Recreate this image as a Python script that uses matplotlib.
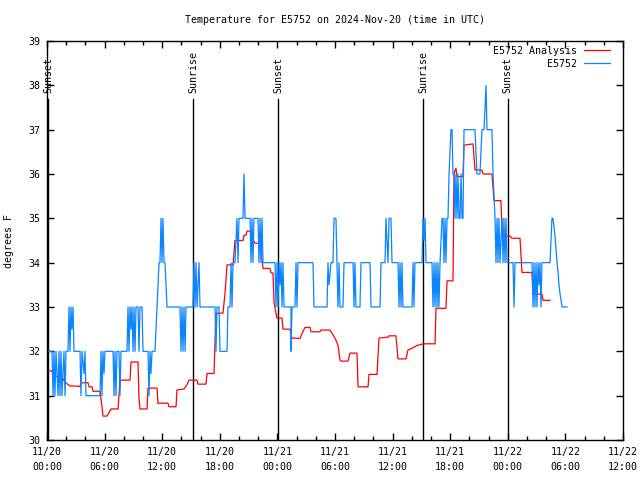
import matplotlib
matplotlib.use('Agg')
import matplotlib.pyplot as plt
from matplotlib.ticker import MultipleLocator

# hours after 2024-11-20 00:00 UTC
analysis_h = [0.00, 0.52, 0.63, 1.56, 1.88, 2.40, 3.44, 3.54, 4.27, 4.38, 4.69, 4.79,
              5.52, 5.73, 5.83, 6.25, 6.46, 6.67, 7.40, 7.60, 8.65, 8.75, 9.48, 9.58,
              9.69, 10.42, 10.52, 11.46, 11.56, 12.60, 12.71, 13.44, 13.54, 14.27, 14.58,
              14.79, 15.63, 15.73, 16.56, 16.67, 17.40, 17.50, 17.60, 18.33, 18.54, 18.75,
              19.38, 19.58, 20.42, 20.52, 20.73, 20.83, 21.35, 21.46, 21.67, 22.19, 22.40,
              22.50, 23.23, 23.33, 23.54, 23.65, 23.85, 23.96, 24.48, 24.58, 25.31, 25.52,
              26.35, 26.67, 26.88, 27.40, 27.50, 28.44, 28.54, 29.48, 30.00, 30.31, 30.52,
              30.63, 31.35, 31.56, 32.29, 32.40, 33.44, 33.54, 34.38, 34.58, 35.52, 35.63,
              36.35, 36.56, 37.40, 37.60, 38.02, 38.54, 39.17, 40.42, 40.52, 41.56, 41.67,
              42.29, 42.40, 42.60, 42.71, 43.33, 43.44, 44.38, 44.58, 45.31, 45.42, 46.35,
              46.56, 47.29, 47.40, 48.23, 48.44, 49.27, 49.48, 50.52, 50.63, 51.56, 51.67,
              52.40]
analysis_t = [31.56, 31.56, 31.45, 31.42, 31.30, 31.22, 31.21, 31.29, 31.29, 31.20, 31.20, 31.10,
              31.10, 30.75, 30.54, 30.54, 30.62, 30.70, 30.70, 31.35, 31.35, 31.76, 31.76, 30.94,
              30.70, 30.70, 31.17, 31.17, 30.83, 30.83, 30.75, 30.75, 31.13, 31.15, 31.25,
              31.35, 31.35, 31.26, 31.26, 31.50, 31.50, 32.20, 32.86, 32.86, 33.30, 33.95,
              33.95, 34.50, 34.50, 34.62, 34.62, 34.71, 34.71, 34.51, 34.44, 34.44, 34.06,
              33.87, 33.87, 33.77, 33.77, 33.10, 32.86, 32.75, 32.75, 32.50, 32.50, 32.30,
              32.29, 32.45, 32.54, 32.54, 32.44, 32.44, 32.48, 32.48, 32.30, 32.14, 31.80,
              31.78, 31.78, 31.96, 31.96, 31.20, 31.20, 31.48, 31.48, 32.30, 32.32, 32.35,
              32.35, 31.83, 31.83, 32.03, 32.07, 32.13, 32.17, 32.17, 32.97, 32.97, 33.59,
              33.59, 36.02, 36.13, 35.94, 35.94, 36.65, 36.68, 36.09, 36.09, 36.00, 36.00,
              35.40, 35.40, 34.60, 34.60, 34.55, 34.55, 33.78, 33.78, 33.29, 33.29, 33.15,
              33.15]

obs_h = [0.00, 0.52, 0.63, 0.73, 0.83, 0.94, 1.04, 1.15, 1.25, 1.35, 1.46, 1.56, 1.67, 1.77,
         1.88, 1.98, 2.19, 2.29, 2.40, 2.50, 2.60, 2.71, 2.81, 3.44, 3.54, 3.65, 3.85, 3.96,
         4.06, 5.52, 5.63, 5.73, 5.83, 5.94, 6.04, 6.88, 6.98, 7.08, 7.19, 7.29, 7.50, 7.60,
         7.71, 8.33, 8.44, 8.54, 8.65, 8.75, 8.85, 8.96, 9.06, 9.17, 9.27, 9.48, 9.58, 9.69,
         9.90, 10.00, 10.52, 10.63, 10.73, 10.83, 10.94, 11.25, 11.46, 11.56, 11.67, 11.77,
         11.88, 11.98, 12.08, 12.19, 12.29, 12.40, 12.50, 13.85, 13.96, 14.06, 14.17, 14.27,
         14.38, 14.48, 15.21, 15.31, 15.42, 15.52, 15.63, 15.83, 15.94, 17.50, 17.60, 17.71,
         17.92, 18.02, 18.75, 18.85, 19.06, 19.17, 19.27, 19.38, 19.58, 19.69, 19.79, 19.90,
         20.00, 20.42, 20.52, 20.63, 21.15, 21.25, 21.35, 21.46, 21.56, 21.98, 22.08, 22.19,
         22.29, 22.40, 22.50, 23.75, 23.85, 23.96, 24.06, 24.17, 24.27, 24.38, 24.48, 24.58,
         24.69, 24.79, 25.42, 25.42, 25.52, 25.83, 25.94, 26.04, 26.15, 27.71, 27.81, 29.17,
         29.27, 29.38, 29.58, 29.79, 29.90, 30.10, 30.21, 30.31, 30.42, 30.52, 30.83, 30.94,
         31.88, 31.98, 32.08, 32.19, 32.29, 32.60, 32.71, 33.65, 33.75, 34.69, 34.79, 35.21,
         35.31, 35.52, 35.63, 35.83, 35.94, 36.56, 36.67, 36.77, 36.88, 36.98, 37.08, 37.29,
         38.02, 38.13, 38.23, 38.33, 39.06, 39.17, 39.27, 39.38, 39.48, 40.10, 40.21, 40.31,
         40.42, 40.52, 40.63, 40.73, 40.83, 40.94, 41.04, 41.15, 41.25, 41.35, 41.46, 41.56,
         41.67, 41.77, 41.88, 41.98, 42.08, 42.19, 42.29, 42.40, 42.50, 42.60, 42.71, 42.81,
         42.92, 43.02, 43.13, 43.23, 43.33, 43.44, 44.58, 44.69, 44.79, 45.10, 45.21, 45.31,
         45.52, 45.63, 45.73, 45.83, 46.35, 46.46, 46.56, 46.67, 46.77, 46.88, 46.98, 47.08,
         47.19, 47.40, 47.50, 47.60, 47.71, 47.81, 47.92, 48.54, 48.65, 48.75, 50.52, 50.63,
         50.73, 50.83, 50.94, 51.04, 51.15, 51.25, 51.35, 51.46, 51.56, 52.40, 52.50, 52.60,
         52.71, 52.81, 52.92, 53.02, 53.13, 53.23, 53.33, 53.44, 53.54, 53.65, 54.17]
obs_t = [32, 32, 31, 32, 31, 32, 31.5, 31, 32, 31, 32, 31, 31.5, 32,
         31, 32, 32, 33, 32, 33, 32.5, 33, 32, 32, 31, 32, 31.5, 32,
         31, 31, 32, 31, 32, 31.5, 32, 32, 31, 32, 31, 32, 32, 31,
         32, 32, 33, 32, 33, 32.5, 33, 32, 33, 32, 33, 33, 32, 33,
         33, 32, 32, 31, 32, 31.5, 32, 32, 33, 33.5, 34, 34,
         35, 34, 35, 34, 34, 33.5, 33, 33, 32, 33, 32, 33,
         32, 33, 33, 34, 33, 34, 33, 34, 33, 33, 32, 33,
         33, 32, 32, 33, 33, 34, 33, 34, 34, 34.5, 35, 34,
         35, 35, 36, 35, 35, 34, 35, 34, 35, 35, 34, 35,
         34, 35, 34, 34, 33, 34, 33, 34, 33.5, 34, 33, 34,
         33, 33, 33, 32, 33, 33, 34, 33, 34, 34, 33, 33,
         34, 33.5, 34, 34, 35, 35, 34, 33, 34, 33, 33, 34,
         34, 33, 34, 33, 33, 33, 34, 34, 33, 33, 34, 34,
         35, 34, 35, 35, 34, 34, 33, 34, 33, 34, 33, 33,
         33, 34, 33, 34, 34, 35, 34.5, 35, 34, 34, 33, 34,
         33, 34, 33, 34, 33, 34, 34.5, 35, 35, 34, 35, 34,
         35, 35, 36, 36.5, 37, 37, 36, 36, 35, 36, 35, 36,
         35, 35, 36, 35, 35, 37, 37, 36.5, 36, 36, 36.5, 37,
         37, 37.5, 38, 37, 37, 36, 35.5, 35, 34, 35, 34, 35,
         34, 35, 34, 35, 34, 35, 34, 34, 33, 34, 34, 33,
         34, 33, 34, 33, 34, 33.5, 34, 33, 34, 34, 34.5, 35,
         35, 34.8, 34.6, 34.3, 34, 33.8, 33.5, 33.3, 33.15, 33, 33]

sun_h = [0.1, 15.2, 24.1, 39.2, 48.0]
sun_labels = ['Sunset', 'Sunrise', 'Sunset', 'Sunrise', 'Sunset']

tick_h = [0, 6, 12, 18, 24, 30, 36, 42, 48, 54, 60]
tick_labels = ['11/20\n00:00', '11/20\n06:00', '11/20\n12:00', '11/20\n18:00',
               '11/21\n00:00', '11/21\n06:00', '11/21\n12:00', '11/21\n18:00',
               '11/22\n00:00', '11/22\n06:00', '11/22\n12:00']

plt.rcParams['font.family'] = 'DejaVu Sans Mono'
plt.rcParams['font.size'] = 7.2

fig = plt.figure(figsize=(6.4, 4.8), dpi=100)
ax = fig.add_axes([47/640, 40/480, 576/640, 399/480])

for h, lab in zip(sun_h, sun_labels):
    ax.plot([h, h], [30, 37.7], color='black', lw=1)
    ax.text(h, 37.82, lab, rotation=90, ha='center', va='bottom')

ax.plot(analysis_h, analysis_t, color='#ff0000', lw=0.9, label='E5752 Analysis')
ax.plot(obs_h, obs_t, color='#0a84ff', lw=0.9, label='E5752')

ax.set_xlim(0, 60)
ax.set_ylim(30, 39)
ax.set_xticks(tick_h)
ax.set_xticklabels(tick_labels, linespacing=1.6)
ax.xaxis.set_minor_locator(MultipleLocator(2))
ax.set_yticks(range(30, 40))
ax.tick_params(which='both', direction='in', top=True, right=True, width=1)
ax.tick_params(which='major', length=5, pad=5)
ax.tick_params(which='minor', length=3)
for s in ax.spines.values():
    s.set_linewidth(1)

ax.set_ylabel('degrees F', labelpad=10)
ax.set_title('Temperature for E5752 on 2024-Nov-20 (time in UTC)', fontsize=7.2, pad=13)

ax.legend(loc='upper right', bbox_to_anchor=(0.977, 0.988), frameon=False,
          markerfirst=False, handlelength=2.6, handletextpad=0.7, labelspacing=0.3,
          borderaxespad=0, borderpad=0)

plt.savefig('out.png', dpi=100)
